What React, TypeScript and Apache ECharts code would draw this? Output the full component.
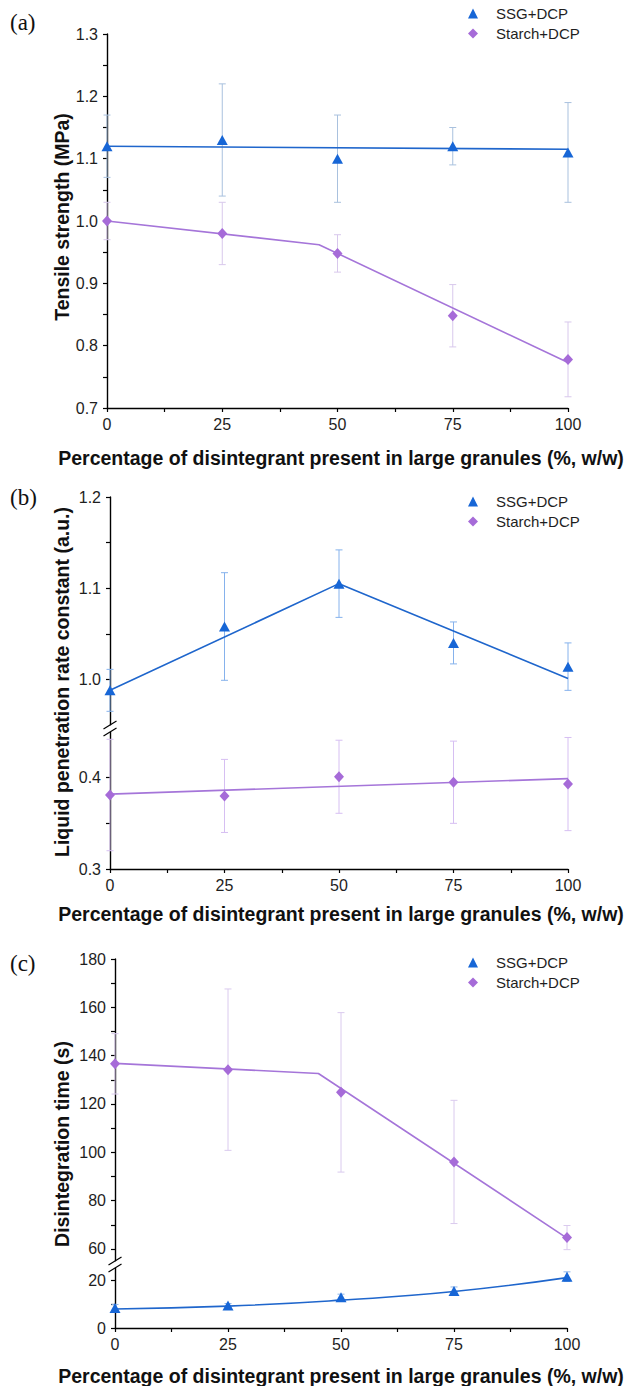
import React, { useEffect, useRef } from 'react';
import * as echarts from 'echarts';

// ---------- data ----------
const xValues = [0, 25, 50, 75, 100];

// Panel (a) tensile strength (MPa)
const ssgA = [1.12, 1.13, 1.10, 1.12, 1.11];
const ssgAErr = [0.05, 0.09, 0.07, 0.03, 0.08];
const ssgAFitX = [0, 100];
const ssgAFit = [1.12, 1.115];
const starchA = [1.0, 0.98, 0.948, 0.848, 0.778];
const starchAErr = [0.03, 0.05, 0.03, 0.05, 0.06];
const starchAFitX = [0, 46, 100];
const starchAFit = [1.0, 0.962, 0.773];
const yTicksA = [0.7, 0.75, 0.8, 0.85, 0.9, 0.95, 1.0, 1.05, 1.1, 1.15, 1.2, 1.25, 1.3];
const yLabelsA = [0.7, 0.8, 0.9, 1.0, 1.1, 1.2, 1.3];

// Panel (b) liquid penetration rate constant (a.u.)
const ssgB = [0.988, 1.058, 1.105, 1.04, 1.014];
const ssgBErr = [0.023, 0.059, 0.037, 0.023, 0.026];
const ssgBFitX = [0, 50, 100];
const ssgBFit = [0.988, 1.105, 1.001];
const starchB = [0.381, 0.38, 0.401, 0.395, 0.393];
const starchBErr = [0.061, 0.04, 0.04, 0.045, 0.051];
const starchBFitX = [0, 100];
const starchBFit = [0.382, 0.399];
const yTicksBUpper = [1.0, 1.05, 1.1, 1.15, 1.2];
const yLabelsBUpper = [1.0, 1.1, 1.2];
const yTicksBLower = [0.3, 0.35, 0.4];
const yLabelsBLower = [0.3, 0.4];

// Panel (c) disintegration time (s)
const starchC = [136.6, 134.2, 124.8, 96.0, 64.7];
const starchCErr = [12.5, 33.4, 33.0, 25.5, 5.0];
const starchCFitX = [0, 45, 100];
const starchCFit = [136.8, 132.6, 64.5];
const ssgC = [8.3, 9.4, 12.8, 15.4, 21.4];
const ssgCErr = [1.5, 0.8, 1.3, 1.7, 2.0];
const ssgCFitX = [0, 25, 50, 75, 100];
const ssgCFit = [7.9, 9.1, 11.6, 15.2, 21.0];
const yTicksCUpper = [60, 70, 80, 90, 100, 110, 120, 130, 140, 150, 160, 170, 180];
const yLabelsCUpper = [60, 80, 100, 120, 140, 160, 180];
const yTicksCLower = [0, 10, 20];
const yLabelsCLower = [0, 20];

const SSG = 'SSG+DCP';
const STARCH = 'Starch+DCP';
const xTitle = 'Percentage of disintegrant present in large granules (%, w/w)';

// ---------- styles ----------
const BLUE = '#1766d6';
const BLUE_LINE = '#1f66cc';
const PURPLE = '#a66bd8';
const PURPLE_LINE = '#a575d9';
const FONT = 'Liberation Sans, Arial, sans-serif';
const SERIF = 'Liberation Serif, Times New Roman, serif';

const zip = (xs: number[], ys: number[]) => xs.map((x, i) => [x, ys[i]]);
const errData = (ys: number[], es: number[]) => xValues.map((x, i) => [x, ys[i] - es[i], ys[i] + es[i]]);

const makeErr = (name: string, grid: number, ys: number[], es: number[], color: string) => ({
  type: 'custom',
  name,
  xAxisIndex: grid,
  yAxisIndex: grid,
  z: 2,
  data: errData(ys, es),
  encode: { x: 0, y: [1, 2] },
  renderItem: (params: any, api: any) => {
    const x = api.value(0);
    const lo = api.coord([x, api.value(1)]);
    const hi = api.coord([x, api.value(2)]);
    const w = 3.5;
    const st = { stroke: color, lineWidth: 1 };
    return {
      type: 'group',
      children: [
        { type: 'line', shape: { x1: hi[0], y1: hi[1], x2: lo[0], y2: lo[1] }, style: st },
        { type: 'line', shape: { x1: hi[0] - w, y1: hi[1], x2: hi[0] + w, y2: hi[1] }, style: st },
        { type: 'line', shape: { x1: lo[0] - w, y1: lo[1], x2: lo[0] + w, y2: lo[1] }, style: st },
      ],
    };
  },
});

const makeScatter = (name: string, grid: number, ys: number[], isSSG: boolean) => ({
  type: 'scatter',
  name,
  xAxisIndex: grid,
  yAxisIndex: grid,
  z: 5,
  data: zip(xValues, ys),
  symbol: isSSG ? 'triangle' : 'diamond',
  symbolSize: isSSG ? [11, 10] : [10, 11],
  itemStyle: { color: isSSG ? BLUE : PURPLE, opacity: 1 },
});

const makeFit = (name: string, grid: number, xs: number[], ys: number[], color: string, smooth = false) => ({
  type: 'line',
  name,
  xAxisIndex: grid,
  yAxisIndex: grid,
  z: 4,
  data: zip(xs, ys),
  symbol: 'none',
  showSymbol: false,
  smooth,
  lineStyle: { color, width: 1.6 },
});

const axisLine = { show: true, onZero: false, lineStyle: { color: '#000', width: 1.4 } };
const tickLine = { color: '#000', width: 1.2 };
const labelStyle = { fontSize: 16, fontFamily: FONT, color: '#1e1e1e' };

const makeX = (grid: number, show: boolean) => ({
  type: 'value',
  gridIndex: grid,
  min: 0,
  max: 100,
  interval: 25,
  show,
  axisLine,
  axisTick: { show: true, inside: false, length: 4, lineStyle: tickLine },
  minorTick: { show: true, splitNumber: 2, length: 4, lineStyle: tickLine },
  axisLabel: { ...labelStyle, margin: 8 },
  splitLine: { show: false },
  minorSplitLine: { show: false },
});

const makeY = (grid: number, min: number, max: number, ticks: number[], labels: number[], dec: number) => ({
  type: 'value',
  gridIndex: grid,
  min,
  max,
  axisLine,
  axisTick: { show: true, inside: false, length: 4, lineStyle: tickLine, customValues: ticks },
  axisLabel: { ...labelStyle, margin: 9, customValues: labels, formatter: (v: number) => v.toFixed(dec) },
  splitLine: { show: false },
});

const makeLegend = (top: number) => ({
  orient: 'vertical',
  left: 463,
  top,
  itemWidth: 10,
  itemHeight: 10,
  itemGap: 5,
  textStyle: { ...labelStyle, fontSize: 15, padding: [0, 0, 0, 13] },
  data: [
    { name: SSG, icon: 'triangle', itemStyle: { color: BLUE } },
    { name: STARCH, icon: 'diamond', itemStyle: { color: PURPLE } },
  ],
});

const titleStyle = { fontSize: 19.5, fontWeight: 'bold', fontFamily: FONT, fill: '#111' };
const xTitleText = (y: number) => ({
  type: 'text', x: 341, y,
  style: { ...titleStyle, text: xTitle, textAlign: 'center', textVerticalAlign: 'middle' },
});
const yTitleText = (text: string, y: number) => ({
  type: 'text', x: 62, y, rotation: Math.PI / 2,
  style: { ...titleStyle, text, textAlign: 'center', textVerticalAlign: 'middle' },
});
const panelLabel = (text: string, y: number) => ({
  type: 'text', x: 10, y,
  style: { text, fontSize: 23, fontFamily: SERIF, fill: '#111', textVerticalAlign: 'middle' },
});
const breakMark = (x: number, y: number) => ({
  type: 'line',
  shape: { x1: x - 6.5, y1: y + 4, x2: x + 6.5, y2: y - 4 },
  style: { stroke: '#000', lineWidth: 1.2 },
});

const option: any = {
  animation: false,
  backgroundColor: '#fff',
  grid: [
    { left: 107, top: 34, width: 461, height: 374, outerBoundsMode: 'none' },
    { left: 110, top: 497, width: 458, height: 228, outerBoundsMode: 'none' },
    { left: 110, top: 732, width: 458, height: 137, outerBoundsMode: 'none' },
    { left: 115, top: 959, width: 452, height: 302, outerBoundsMode: 'none' },
    { left: 115, top: 1268, width: 452, height: 60, outerBoundsMode: 'none' },
  ],
  xAxis: [makeX(0, true), makeX(1, false), makeX(2, true), makeX(3, false), makeX(4, true)],
  yAxis: [
    makeY(0, 0.7, 1.3, yTicksA, yLabelsA, 1),
    makeY(1, 0.95, 1.2, yTicksBUpper, yLabelsBUpper, 1),
    makeY(2, 0.3, 0.45, yTicksBLower, yLabelsBLower, 1),
    makeY(3, 55, 180, yTicksCUpper, yLabelsCUpper, 0),
    makeY(4, 0, 25, yTicksCLower, yLabelsCLower, 0),
  ],
  legend: [makeLegend(1), makeLegend(489), makeLegend(950)],
  series: [
    // (a)
    makeErr('SSG err a', 0, ssgA, ssgAErr, '#a9c1de'),
    makeErr('Starch err a', 0, starchA, starchAErr, '#d8c8ec'),
    makeFit('SSG fit a', 0, ssgAFitX, ssgAFit, BLUE_LINE),
    makeFit('Starch fit a', 0, starchAFitX, starchAFit, PURPLE_LINE),
    makeScatter(SSG, 0, ssgA, true),
    makeScatter(STARCH, 0, starchA, false),
    // (b)
    makeErr('SSG err b', 1, ssgB, ssgBErr, '#86b2ec'),
    makeFit('SSG fit b', 1, ssgBFitX, ssgBFit, BLUE_LINE),
    makeScatter(SSG, 1, ssgB, true),
    makeErr('Starch err b', 2, starchB, starchBErr, '#d6bff2'),
    makeFit('Starch fit b', 2, starchBFitX, starchBFit, PURPLE_LINE),
    makeScatter(STARCH, 2, starchB, false),
    // (c)
    makeErr('Starch err c', 3, starchC, starchCErr, '#dacaee'),
    makeFit('Starch fit c', 3, starchCFitX, starchCFit, PURPLE_LINE),
    makeScatter(STARCH, 3, starchC, false),
    makeErr('SSG err c', 4, ssgC, ssgCErr, '#8fb6ea'),
    makeFit('SSG fit c', 4, ssgCFitX, ssgCFit, BLUE_LINE, true),
    makeScatter(SSG, 4, ssgC, true),
  ],
  graphic: [
    panelLabel('(a)', 22),
    panelLabel('(b)', 497),
    panelLabel('(c)', 963),
    xTitleText(458),
    xTitleText(914),
    xTitleText(1376),
    yTitleText('Tensile strength (MPa)', 217),
    yTitleText('Liquid penetration rate constant (a.u.)', 682),
    yTitleText('Disintegration time (s)', 1144),
    // axis breaks
    { type: 'rect', shape: { x: 103, y: 725.5, width: 14, height: 6 }, style: { fill: '#fff' }, z: 10 },
    { ...breakMark(110, 725), z: 11 },
    { ...breakMark(110, 732), z: 11 },
    { type: 'rect', shape: { x: 108, y: 1261.5, width: 14, height: 6 }, style: { fill: '#fff' }, z: 10 },
    { ...breakMark(115, 1261), z: 11 },
    { ...breakMark(115, 1268), z: 11 },
  ],
};

export default function App() {
  const ref = useRef<HTMLDivElement>(null);
  useEffect(() => {
    const chart = echarts.init(ref.current!, null, { renderer: 'svg' });
    chart.setOption(option);
    return () => chart.dispose();
  }, []);
  return (
    <div
      ref={ref}
      style={{ position: 'absolute', left: 0, top: 0, width: 627, height: 1386, background: '#fff' }}
    />
  );
}
